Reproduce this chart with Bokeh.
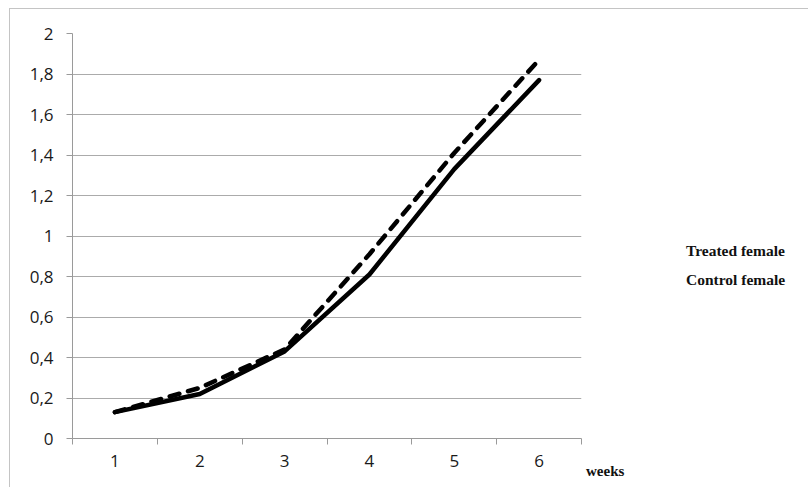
from bokeh.plotting import figure
from bokeh.models import (FixedTicker, CustomJSTickFormatter, Legend, LegendItem,
                          Range1d)
from bokeh.embed import file_html
from bokeh.resources import INLINE

weeks = [1, 2, 3, 4, 5, 6]
treated = [0.13, 0.25, 0.44, 0.91, 1.41, 1.87]
control = [0.13, 0.22, 0.43, 0.81, 1.33, 1.77]
y_ticks = [0, 0.2, 0.4, 0.6, 0.8, 1.0, 1.2, 1.4, 1.6, 1.8, 2.0]
x_tick_bounds = [0.5, 1.5, 2.5, 3.5, 4.5, 5.5, 6.5]
series_names = ["Treated female", "Control female"]
x_unit = "weeks"

p = figure(frame_width=509, frame_height=405, output_backend="svg", toolbar_location=None,
           x_range=Range1d(0.5, 6.5), y_range=Range1d(0, 2),
           min_border_left=62, min_border_right=10,
           min_border_top=24, min_border_bottom=49)
p.styles = {"border-top": "1px solid #c4c4c4", "border-left": "1px solid #c4c4c4",
            "margin-left": "9px", "margin-top": "8px"}
p.outline_line_color = None
p.background_fill_color = "white"
p.border_fill_color = "white"

grid_col = "#ababab"
axis_col = "#9a9a9a"
label_font = "Open Sans"

# y axis
p.yaxis.ticker = FixedTicker(ticks=y_ticks)
p.yaxis.formatter = CustomJSTickFormatter(
    code="var s = tick.toFixed(1).replace('.', ','); return s.endsWith(',0') ? s.slice(0, -2) : s;")
p.yaxis.axis_line_color = axis_col
p.yaxis.major_tick_line_color = axis_col
p.yaxis.major_tick_out = 6
p.yaxis.major_tick_in = 0
p.yaxis.minor_tick_line_color = None
p.yaxis.major_label_standoff = 13
p.yaxis.major_label_text_font = label_font
p.yaxis.major_label_text_font_size = "17px"
p.yaxis.major_label_text_color = "#1a1a1a"

# x axis: labels at week centres, tick marks between weeks
p.xaxis.ticker = FixedTicker(ticks=weeks, minor_ticks=x_tick_bounds)
p.xaxis.axis_line_color = axis_col
p.xaxis.major_tick_line_color = None
p.xaxis.minor_tick_line_color = axis_col
p.xaxis.minor_tick_out = 6
p.xaxis.minor_tick_in = 0
p.xaxis.major_label_standoff = 10
p.xaxis.major_label_text_font = label_font
p.xaxis.major_label_text_font_size = "17px"
p.xaxis.major_label_text_color = "#1a1a1a"

p.xgrid.grid_line_color = None
p.ygrid.ticker = FixedTicker(ticks=y_ticks)
p.ygrid.grid_line_color = grid_col
p.ygrid.grid_line_width = 1

r_t = p.line(weeks, treated, line_color="black", line_width=4.5, line_dash="10 9",
             line_cap="round", line_join="round")
r_c = p.line(weeks, control, line_color="black", line_width=4.5,
             line_cap="round", line_join="round")

# legend sample styles (empty renderers): the glyph box starts at the "weeks" column,
# and each pattern begins with a 28px blank stretch
r_t_key = p.line([], [], line_color="black", line_width=4.5,
                 line_dash="0 28 15 5 15 5 15 1000", line_cap="butt")
r_c_key = p.line([], [], line_color="black", line_width=4.5,
                 line_dash="0 28 62 1000", line_cap="butt")

legend = Legend(items=[LegendItem(label=series_names[0], renderers=[r_t_key]),
                       LegendItem(label=series_names[1], renderers=[r_c_key])],
                location=(5, -42), orientation="vertical",
                glyph_width=90, glyph_height=20, label_height=20,
                label_standoff=10, spacing=9, padding=0, margin=0,
                border_line_color=None, background_fill_alpha=0,
                label_text_font="Liberation Serif", label_text_font_style="bold",
                label_text_font_size="15.5px", label_text_color="#111111",
                title=x_unit, title_location="below", title_standoff=173,
                title_text_font="Liberation Serif", title_text_font_style="bold",
                title_text_font_size="15px", title_text_color="#111111")
p.add_layout(legend, "right")

open("out.html", "w").write(file_html(p, INLINE))
